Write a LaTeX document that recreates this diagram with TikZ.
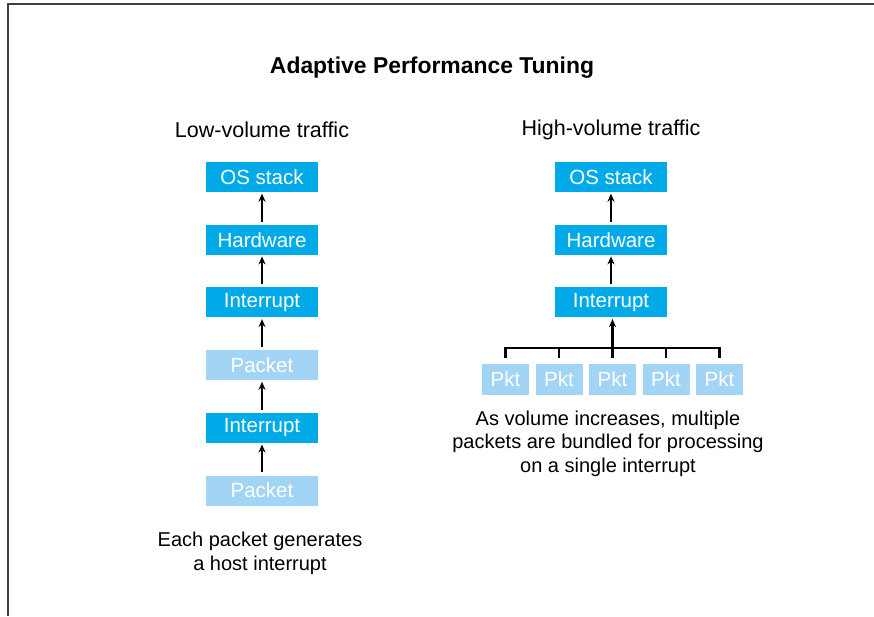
\documentclass[tikz,border=0pt]{standalone}
\usepackage{fontspec}
\setmainfont{Liberation Sans}
\usetikzlibrary{positioning,arrows.meta}

\definecolor{boxblue}{RGB}{0,170,232}
\definecolor{pktblue}{RGB}{162,213,245}

\begin{document}
\begin{tikzpicture}[
    x=1pt, y=-1pt,
    box/.style={fill=boxblue, text=white, minimum width=112pt, minimum height=30pt,
        inner sep=0pt, font=\fontsize{20.5}{23}\selectfont}, % Dark blue boxes
    pktbox/.style={box, fill=pktblue}, % Light blue packets
    smallpkt/.style={pktbox, minimum width=47pt, minimum height=31pt}, % Bundled packets
    uparrow/.style={-{Stealth[length=8pt,width=7pt]}, line width=2.8pt,
        shorten <=3pt, shorten >=1.5pt},
    caption/.style={align=center, font=\fontsize{20}{23.5}\selectfont},
    node distance=32.3pt
]

    % Canvas and frame
    \useasboundingbox (0,0) rectangle (874,616);
    \draw[black!75, line width=2pt] (7.5,616) -- (7.5,3.5) -- (874,3.5);

    % Titles
    \node[font=\fontsize{22.9}{26}\bfseries\selectfont] (title) at (432,68) {Adaptive Performance Tuning};
    \node[caption, font=\fontsize{21.5}{24}\selectfont] (lowtitle) at (262,130) {Low-volume traffic};
    \node[caption, font=\fontsize{21.5}{24}\selectfont] (hightitle) at (611,130) {High-volume traffic};

    % Low-volume column
    \node[box] (os1) at (262,177) {OS stack};
    \node[box, below=of os1] (hw1) {Hardware};
    \node[box, below=of hw1] (int1) {Interrupt};
    \node[pktbox, below=of int1] (pkt1) {Packet};
    \node[box, below=of pkt1] (int2) {Interrupt};
    \node[pktbox, below=of int2] (pkt2) {Packet};

    \draw[uparrow] (hw1) -- (os1);
    \draw[uparrow] (int1) -- (hw1);
    \draw[uparrow] (pkt1) -- (int1);
    \draw[uparrow] (int2) -- (pkt1);
    \draw[uparrow] (pkt2) -- (int2);

    \node[caption] (lowtext) at (260,553.5) {Each packet generates\\a host interrupt};

    % High-volume column
    \node[box] (os2) at (611,177) {OS stack};
    \node[box, below=of os2] (hw2) {Hardware};
    \node[box, below=of hw2] (int3) {Interrupt};

    \draw[uparrow] (hw2) -- (os2);
    \draw[uparrow] (int3) -- (hw2);

    % Bundled packets
    \foreach \i/\px in {1/505.5, 2/559, 3/612.5, 4/666, 5/719.5} {
        \node[smallpkt] (p\i) at (\px,379.5) {Pkt};
        \draw[line width=2.6pt] (p\i.north) ++(0,-6) coordinate (t\i) -- ++(0,-10) coordinate (b\i);
    }
    \draw[line width=2.6pt] ([xshift=-1.3pt]b1) -- ([xshift=1.3pt]b5);
    \draw[uparrow, shorten <=0pt] (t3) -- (t3 |- int3.south);

    \node[caption] (hightext) at (608,443.5) {As volume increases, multiple\\packets are bundled for processing\\on a single interrupt};

\end{tikzpicture}
\end{document}
